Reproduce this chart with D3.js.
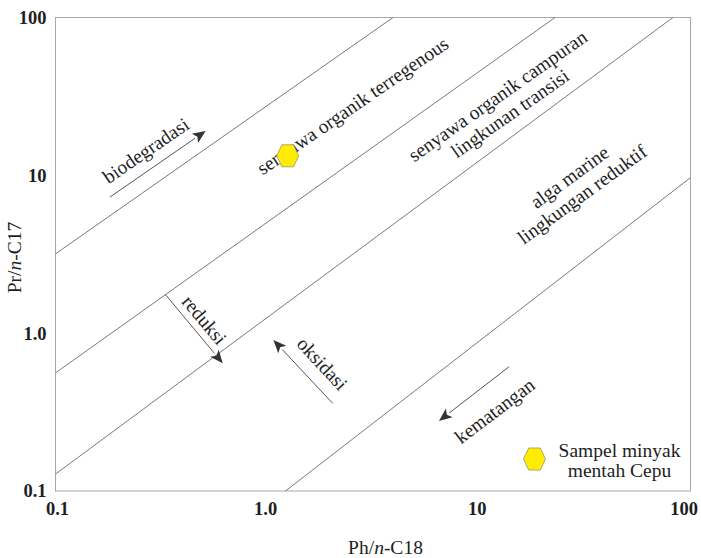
<!DOCTYPE html>
<html>
<head>
<meta charset="utf-8">
<script src="https://cdn.jsdelivr.net/npm/d3@7"></script>
<style>
  body { margin: 0; background: #fff; }
  svg { display: block; }
  text { font-family: "Liberation Serif", "Times New Roman", serif; fill: #1e1e1e; }
  .tick text { font-size: 18.5px; font-weight: bold; }
  .axisText { font-size: 19.5px; }
  .zone { font-size: 19.5px; }
</style>
</head>
<body>
<div id="chart"></div>
<script>
// chart values
var tickValues = [0.1, 1, 10, 100];
var xTickLabels = ["0.1", "1.0", "10", "100"];
var yTickLabels = ["0.1", "1.0", "10", "100"];

// boundary lines, [Ph/n-C18, Pr/n-C17] end points
var boundaries = [
  [[0.1, 3.18], [3.93, 100]],
  [[0.1, 0.56], [22.9, 100]],
  [[0.1, 0.128], [82.6, 100]],
  [[1.22, 0.1], [100, 9.67]]
];

// trend arrows, from -> to
var arrows = [
  [[0.181, 7.29], [0.512, 19.1]],   // biodegradasi
  [[0.329, 1.77], [0.617, 0.644]],  // reduksi
  [[2.04, 0.359], [1.07, 0.905]],   // oksidasi
  [[13.9, 0.613], [6.48, 0.278]]    // kematangan
];

// zone / arrow labels: position, angle, lines
var labels = [
  { x: 0.268, y: 14.3, angle: -34.5, lines: ["biodegradasi"] },
  { x: 2.54, y: 27.5, angle: -34.5, lines: ["senyawa organik terregenous"] },
  { x: 13.15, y: 27.9, angle: -35, lines: ["senyawa organik campuran", "lingkunan transisi"] },
  { x: 28.8, y: 8.56, angle: -36, lines: ["alga marine", "lingkungan reduktif"] },
  { x: 0.503, y: 1.21, angle: 50, lines: ["reduksi"] },
  { x: 1.816, y: 0.638, angle: 47, lines: ["oksidasi"] },
  { x: 11.92, y: 0.321, angle: -37, lines: ["kematangan"] }
];

// sample
var samples = [{ name: "Sampel minyak mentah Cepu", ph: 1.25, pr: 13.3 }];
var legendLines = ["Sampel minyak", "mentah Cepu"];

var svgWidth = 701;
var svgHeight = 558;

var margin = {
  top: 17.5,
  right: 10.5,
  bottom: 67,
  left: 55.5
};

var width = svgWidth - margin.left - margin.right;
var height = svgHeight - margin.top - margin.bottom;

var svg = d3.select("#chart")
  .append("svg")
  .attr("width", svgWidth)
  .attr("height", svgHeight);

var chartGroup = svg.append("g")
  .attr("transform", `translate(${margin.left}, ${margin.top})`);

var xLogScale = d3.scaleLog()
  .domain([0.1, 100])
  .range([0, width]);

var yLogScale = d3.scaleLog()
  .domain([0.1, 100])
  .range([height, 0]);

// frame
chartGroup.append("rect")
  .attr("width", width)
  .attr("height", height)
  .attr("fill", "none")
  .attr("stroke", "#a8a8a8")
  .attr("stroke-width", 1);

// axes (labels only)
var bottomAxis = d3.axisBottom(xLogScale)
  .tickValues(tickValues)
  .tickFormat((d, i) => xTickLabels[i])
  .tickSize(0)
  .tickPadding(11);

var leftAxis = d3.axisLeft(yLogScale)
  .tickValues(tickValues)
  .tickFormat((d, i) => yTickLabels[i])
  .tickSize(0)
  .tickPadding(9);

var xAxisG = chartGroup.append("g")
  .attr("transform", `translate(0, ${height})`)
  .call(bottomAxis);
xAxisG.select(".domain").remove();
xAxisG.selectAll(".tick text")
  .attr("font-family", null)
  .attr("font-size", null)
  .attr("dx", (d, i) => i === 0 ? 1.5 : i === tickValues.length - 1 ? -7 : -2);

var yAxisG = chartGroup.append("g")
  .call(leftAxis);
yAxisG.select(".domain").remove();
yAxisG.selectAll(".tick text")
  .attr("font-family", null)
  .attr("font-size", null);

// boundary lines
var line = d3.line()
  .x(d => xLogScale(d[0]))
  .y(d => yLogScale(d[1]));

chartGroup.selectAll(".boundary")
  .data(boundaries)
  .enter()
  .append("path")
  .attr("class", "boundary")
  .attr("d", line)
  .attr("fill", "none")
  .attr("stroke", "#6a6a6a")
  .attr("stroke-width", 0.9);

// arrows
var headLen = 13;
var headHalf = 5.5;

arrows.forEach(function (a) {
  var x1 = xLogScale(a[0][0]), y1 = yLogScale(a[0][1]);
  var x2 = xLogScale(a[1][0]), y2 = yLogScale(a[1][1]);
  var len = Math.hypot(x2 - x1, y2 - y1);
  var ux = (x2 - x1) / len, uy = (y2 - y1) / len;
  var bx = x2 - ux * headLen, by = y2 - uy * headLen;

  chartGroup.append("line")
    .attr("x1", x1)
    .attr("y1", y1)
    .attr("x2", bx)
    .attr("y2", by)
    .attr("stroke", "#555")
    .attr("stroke-width", 1);

  chartGroup.append("path")
    .attr("d", `M${x2},${y2}L${bx - uy * headHalf},${by + ux * headHalf}L${bx + ux * 3},${by + uy * 3}L${bx + uy * headHalf},${by - ux * headHalf}Z`)
    .attr("fill", "#333");
});

// labels
var lineGap = 21.5;
labels.forEach(function (l) {
  var g = chartGroup.append("g")
    .attr("transform", `translate(${xLogScale(l.x)}, ${yLogScale(l.y)}) rotate(${l.angle})`);
  g.selectAll("text")
    .data(l.lines)
    .enter()
    .append("text")
    .attr("class", "zone")
    .attr("text-anchor", "middle")
    .attr("y", (d, i) => (i - (l.lines.length - 1) / 2) * lineGap)
    .attr("dy", "0.32em")
    .text(d => d);
});

// hexagon marker
function hexPath(cx, cy) {
  var w = 11, t = 5.8, h = 11;
  return `M${cx - w},${cy}L${cx - t},${cy - h}L${cx + t},${cy - h}L${cx + w},${cy}L${cx + t},${cy + h}L${cx - t},${cy + h}Z`;
}

chartGroup.selectAll(".sample")
  .data(samples)
  .enter()
  .append("path")
  .attr("class", "sample")
  .attr("d", d => hexPath(xLogScale(d.ph), yLogScale(d.pr)))
  .attr("fill", "#ffec00")
  .attr("stroke", "#9a9464")
  .attr("stroke-width", 0.8);

// legend
var legend = chartGroup.append("g")
  .attr("transform", `translate(${width - 156}, ${height - 32})`);

legend.append("path")
  .attr("d", hexPath(0, 0))
  .attr("fill", "#ffec00")
  .attr("stroke", "#9a9464")
  .attr("stroke-width", 0.8);

legend.selectAll("text")
  .data(legendLines)
  .enter()
  .append("text")
  .attr("class", "zone")
  .attr("text-anchor", "middle")
  .attr("x", 85)
  .attr("y", (d, i) => -2 + i * 20)
  .text(d => d);

// axis titles
var xTitle = chartGroup.append("text")
  .attr("class", "axisText")
  .attr("text-anchor", "middle")
  .attr("x", 330)
  .attr("y", height + 63);
xTitle.append("tspan").text("Ph/");
xTitle.append("tspan").attr("font-style", "italic").text("n");
xTitle.append("tspan").text("-C18");

var yTitle = chartGroup.append("text")
  .attr("class", "axisText")
  .attr("text-anchor", "middle")
  .attr("transform", `translate(${-35}, ${240}) rotate(-90)`);
yTitle.append("tspan").text("Pr/");
yTitle.append("tspan").attr("font-style", "italic").text("n");
yTitle.append("tspan").text("-C17");
</script>
</body>
</html>
